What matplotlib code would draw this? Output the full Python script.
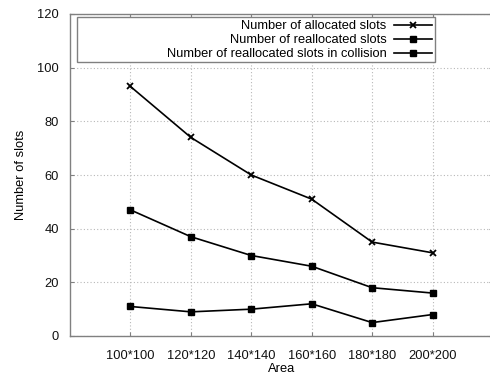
import numpy as np
import matplotlib.pyplot as plt
from matplotlib.patches import Rectangle

plt.rcParams['font.family'] = ['Liberation Sans', 'DejaVu Sans']

# data
areas = ["100*100", "120*120", "140*140", "160*160", "180*180", "200*200"]
allocated = [93, 74, 60, 51, 35, 31]
reallocated = [47, 37, 30, 26, 18, 16]
collision = [11, 9, 10, 12, 5, 8]

x = np.arange(1, len(areas) + 1)

fig = plt.figure(figsize=(4.9, 3.81), dpi=100)
# axes runs slightly past the right edge, like the source image
ax = fig.add_axes([70 / 490, 1 - 336 / 381, 423 / 490, 322 / 381])

ax.plot(x, allocated, "-", color="black", lw=1.2, marker="x", ms=5, mew=1.3,
        label="Number of allocated slots")
ax.plot(x, reallocated, "-", color="black", lw=1.2, marker="s", ms=3.8,
        label="Number of reallocated slots")
ax.plot(x, collision, "-", color="black", lw=1.2, marker="s", ms=3.8,
        label="Number of reallocated slots in collision")

ax.set_xlim(0, 7)
ax.set_ylim(0, 120)
ax.set_xticks(x)
ax.set_xticklabels(areas)
ax.set_yticks(np.arange(0, 121, 20))
ax.tick_params(direction="in", length=3, color="#808080", labelsize=9.3,
               labelcolor="#111111", top=True, right=True, pad=8)
ax.tick_params(axis="x", pad=10)
for s in ax.spines.values():
    s.set_color("#808080")
    s.set_linewidth(1.0)
ax.grid(True, ls=(0, (1, 2)), color="#b8b8b8", lw=0.8)

ax.set_xlabel("Area", fontsize=9.3, labelpad=1)
ax.set_ylabel("Number of slots", fontsize=9.3, labelpad=7)

# gnuplot-style key box
ax.add_patch(Rectangle((7 / 423, (336 - 62) / 322), (435 - 77) / 423, 45 / 322,
                       transform=ax.transAxes, fill=True, facecolor="white",
                       edgecolor="#808080", lw=1.0, zorder=3))
leg = ax.legend(loc="upper right", bbox_to_anchor=((435 - 70) / 423, (336 - 17) / 322),
                borderaxespad=0, borderpad=0.25, frameon=False, markerfirst=False,
                fontsize=9.3, handlelength=2.9, handletextpad=0.6, labelspacing=0.15)
leg.set_zorder(4)

fig.savefig("out.png", dpi=100)
